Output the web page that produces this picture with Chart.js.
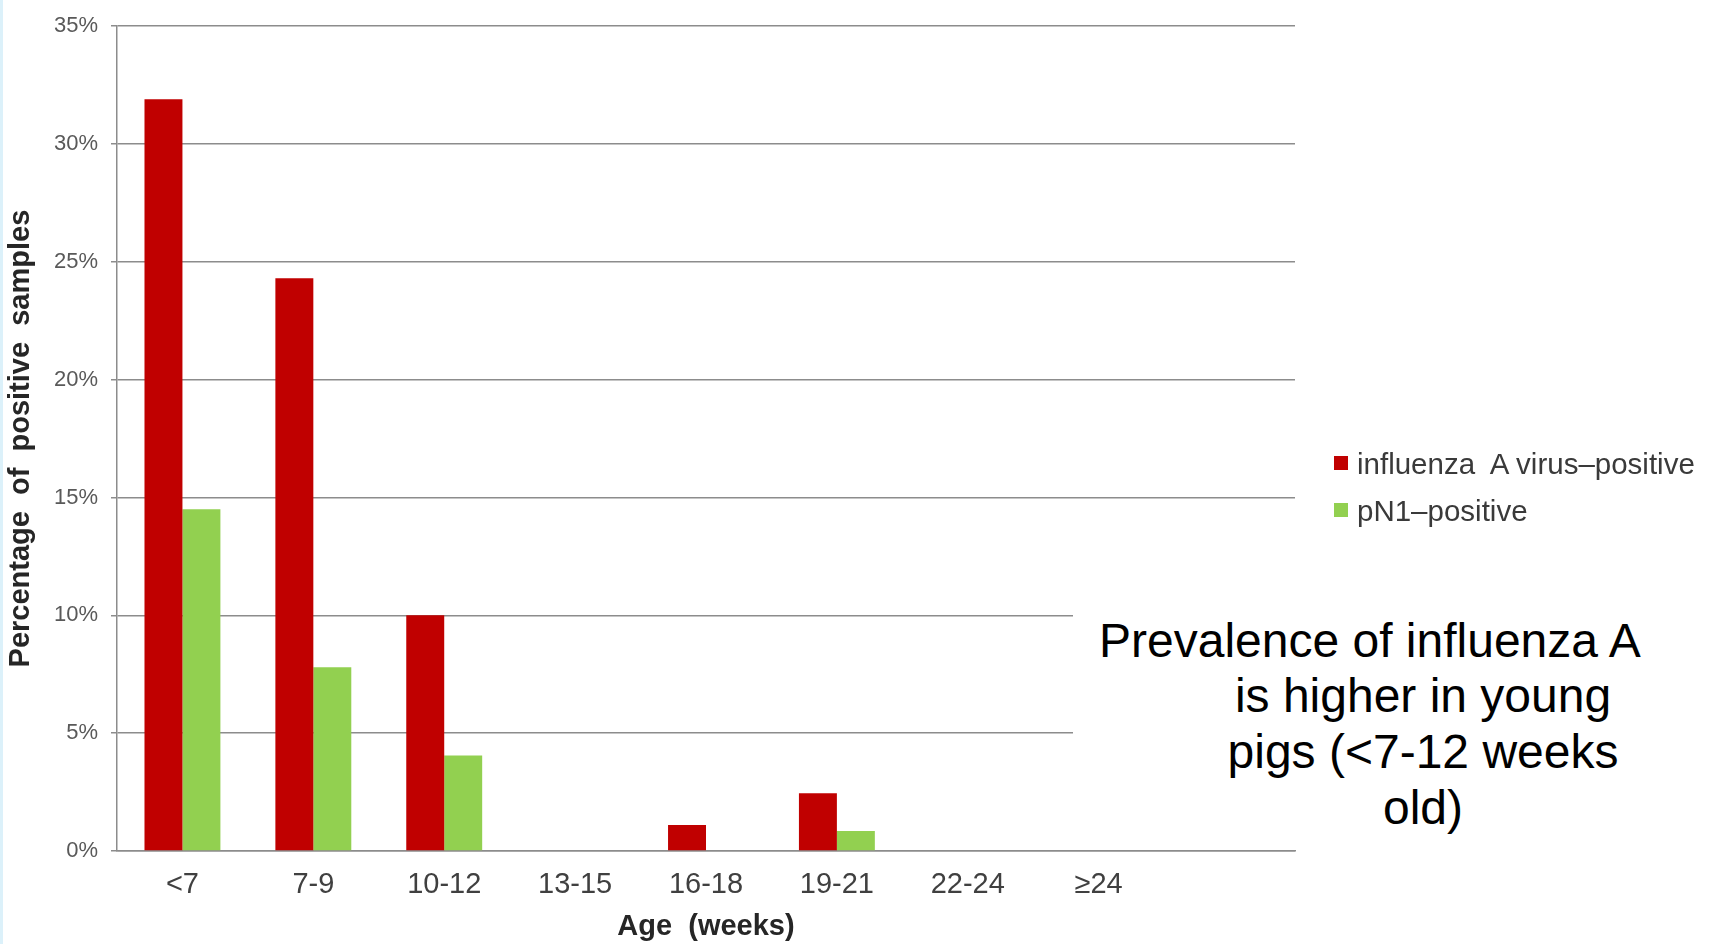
<!DOCTYPE html>
<html>
<head>
<meta charset="utf-8">
<title>Influenza A prevalence by age</title>
<script src="https://cdn.jsdelivr.net/npm/chart.js@4/dist/chart.umd.min.js"></script>
<style>
  html, body { margin: 0; padding: 0; background: #ffffff; }
  body { width: 1711px; height: 944px; position: relative; overflow: hidden;
         font-family: "Liberation Sans", Arial, sans-serif; }
  #edge { position: absolute; left: 0; top: 0; width: 3px; height: 944px; background: #dcf1fa; }
  #chart { position: absolute; left: 0; top: 0; }
  #legend { position: absolute; left: 1334px; top: 440px; font-size: 29.5px; color: #3a3a3a; }
  #legend .row { position: relative; height: 47px; line-height: 47px; white-space: pre; }
  #legend .sw { display: inline-block; width: 14px; height: 14px; margin-right: 9px;
                vertical-align: middle; position: relative; top: -3px; }
  #note { position: absolute; left: 1073px; top: 575px; width: 610px; height: 262px; background: #ffffff; }
  #note div { position: absolute; font-size: 48px; line-height: 56px; color: #000000; white-space: pre; }
</style>
</head>
<body>
<div id="edge"></div>
<canvas id="chart" width="1711" height="944"></canvas>
<div id="legend"></div>
<div id="note"></div>
<script>
// Age groups (the last slot of the category axis is left blank)
const ageGroups = ['<7', '7-9', '10-12', '13-15', '16-18', '19-21', '22-24', '\u226524', ''];

// Percentage of positive samples per age group
const influenzaPositive = [31.9, 24.3, 10.0, 0, 1.1, 2.45, 0, 0, null];
const pN1Positive = [14.5, 7.8, 4.05, 0, 0, 0.85, 0, 0, null];

// Y axis tick values
const yTicks = [0, 5, 10, 15, 20, 25, 30, 35];

const seriesNames = ['influenza  A virus\u2013positive', 'pN1\u2013positive'];
const seriesColors = ['#c00000', '#92d050'];

const noteLines = ['Prevalence of influenza A', 'is higher in young', 'pigs (<7-12 weeks', 'old)'];

const FONT = '"Liberation Sans", Arial, sans-serif';
const GRID = '#8c8c8c';

new Chart(document.getElementById('chart'), {
  type: 'bar',
  data: {
    labels: ageGroups,
    datasets: [
      { label: seriesNames[0], data: influenzaPositive, backgroundColor: seriesColors[0] },
      { label: seriesNames[1], data: pN1Positive, backgroundColor: seriesColors[1] }
    ]
  },
  options: {
    responsive: false,
    animation: false,
    devicePixelRatio: 1,
    layout: { padding: { left: 0, right: 416, top: 21, bottom: 0 } },
    datasets: { bar: { categoryPercentage: 0.58, barPercentage: 1.0, borderWidth: 0 } },
    plugins: {
      legend: { display: false },
      tooltip: { enabled: false }
    },
    scales: {
      x: {
        grid: { display: false, drawTicks: false },
        border: { display: true, color: GRID, width: 1.5 },
        ticks: { color: '#404040', font: { family: FONT, size: 29 }, padding: 17, maxRotation: 0, autoSkip: false },
        title: {
          display: true, text: 'Age  (weeks)', color: '#262626',
          font: { family: FONT, size: 29, weight: 'bold' }, padding: { top: 0, bottom: 0 }
        },
        afterFit(scale) { scale.height = 93; }
      },
      y: {
        min: 0, max: 35,
        afterBuildTicks(scale) { scale.ticks = yTicks.map(v => ({ value: v })); },
        grid: { color: GRID, lineWidth: 1.5, drawTicks: true, tickLength: 6, tickColor: GRID },
        border: { display: true, color: GRID, width: 1.5 },
        ticks: { color: '#595959', font: { family: FONT, size: 22 }, padding: 13, callback: v => v + '%' },
        title: {
          display: true, text: 'Percentage  of  positive  samples', color: '#262626',
          font: { family: FONT, size: 29, weight: 'bold' }, padding: { top: 4, bottom: 0 }
        },
        afterFit(scale) { scale.width = 117; }
      }
    }
  }
});

// Series key, built from the dataset names and colours
const legend = document.getElementById('legend');
seriesNames.forEach((name, i) => {
  const row = document.createElement('div');
  row.className = 'row';
  const sw = document.createElement('span');
  sw.className = 'sw';
  sw.style.background = seriesColors[i];
  row.appendChild(sw);
  row.appendChild(document.createTextNode(name));
  legend.appendChild(row);
});

// Note beside the plot: first line set flush left, the rest centred
const note = document.getElementById('note');
noteLines.forEach((text, i) => {
  const d = document.createElement('div');
  d.textContent = text;
  d.style.top = (37.7 + i * 55.7) + 'px';
  if (i === 0) {
    d.style.left = '26px';
  } else {
    d.style.left = '350px';
    d.style.transform = 'translateX(-50%)';
  }
  note.appendChild(d);
});
</script>
</body>
</html>
